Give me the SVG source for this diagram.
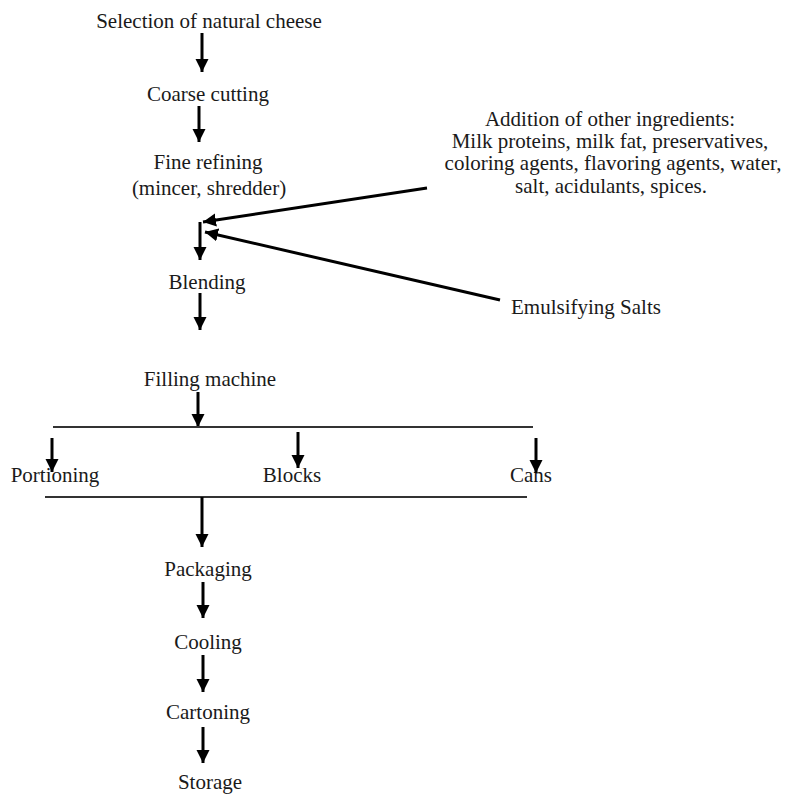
<svg xmlns="http://www.w3.org/2000/svg" width="785" height="796" viewBox="0 0 785 796">
<defs>
<marker id="ah" markerUnits="userSpaceOnUse" markerWidth="14" markerHeight="14" refX="13" refY="6.5" orient="auto" viewBox="0 0 14 13">
<path d="M0,0 L13,6.5 L0,13 z" fill="#000"/>
</marker>
</defs>
<style>
text{font-family:"Liberation Serif","Times New Roman",serif;font-size:21px;fill:#1a1a1a;text-anchor:middle}
.ar{stroke:#000;stroke-width:3;fill:none;marker-end:url(#ah)}
.dg{stroke:#000;stroke-width:3;fill:none;marker-end:url(#ah)}
.hl{stroke:#333;stroke-width:2;fill:none}
</style>
<rect width="785" height="796" fill="#fff"/>
<g id="selection"><text x="209" y="28">Selection of natural cheese</text></g>
<g id="coarse"><text x="208" y="101">Coarse cutting</text></g>
<g id="fine"><text x="208" y="169">Fine refining</text><text x="209" y="195">(mincer, shredder)</text></g>
<g id="addition">
<text x="610" y="126">Addition of other ingredients:</text>
<text x="610" y="148">Milk proteins, milk fat, preservatives,</text>
<text x="613" y="170">coloring agents, flavoring agents, water,</text>
<text x="611" y="193">salt, acidulants, spices.</text>
</g>
<g id="emulsifying"><text x="586" y="314">Emulsifying Salts</text></g>
<g id="blending"><text x="207" y="289">Blending</text></g>
<g id="filling"><text x="210" y="386">Filling machine</text></g>
<g id="portioning"><text x="55" y="482">Portioning</text></g>
<g id="blocks"><text x="292" y="482">Blocks</text></g>
<g id="cans"><text x="531" y="482">Cans</text></g>
<g id="packaging"><text x="208" y="576">Packaging</text></g>
<g id="cooling"><text x="208" y="649">Cooling</text></g>
<g id="cartoning"><text x="208" y="719">Cartoning</text></g>
<g id="storage"><text x="210" y="789">Storage</text></g>
<g id="connectors">
<line class="ar" x1="202" y1="33" x2="202" y2="72"/>
<line class="ar" x1="199" y1="106" x2="199" y2="142"/>
<line class="dg" x1="427" y1="188" x2="203" y2="222"/>
<line class="dg" x1="500" y1="300" x2="205" y2="232"/>
<line class="ar" x1="200" y1="222" x2="200" y2="260"/>
<line class="ar" x1="200" y1="293" x2="200" y2="330"/>
<line class="ar" x1="198" y1="392" x2="198" y2="427"/>
<line class="hl" x1="53" y1="427" x2="533" y2="427"/>
<line class="ar" x1="52" y1="438" x2="52" y2="472"/>
<line class="ar" x1="298" y1="432" x2="298" y2="468"/>
<line class="ar" x1="536" y1="438" x2="536" y2="473"/>
<line class="hl" x1="45" y1="497" x2="527" y2="497"/>
<line class="ar" x1="202" y1="497" x2="202" y2="547"/>
<line class="ar" x1="203" y1="582" x2="203" y2="618"/>
<line class="ar" x1="203" y1="655" x2="203" y2="692"/>
<line class="ar" x1="203" y1="727" x2="203" y2="763"/>
</g>
</svg>
